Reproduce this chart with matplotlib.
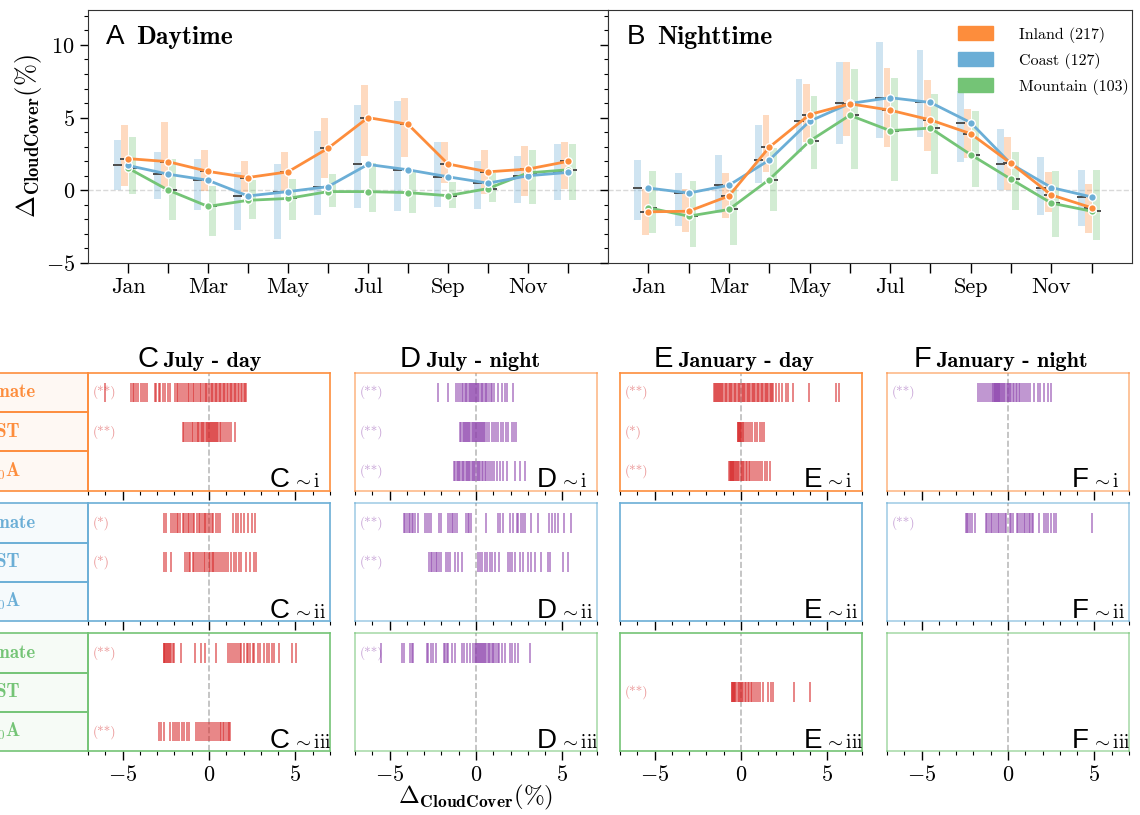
import matplotlib
matplotlib.use("Agg")
import matplotlib.pyplot as plt
from matplotlib.patches import Rectangle, Patch
from matplotlib.ticker import MultipleLocator, FixedLocator
import numpy as np

plt.rcParams["font.family"] = "cmr10"
plt.rcParams["mathtext.fontset"] = "cm"
plt.rcParams["axes.formatter.use_mathtext"] = True
plt.rcParams["axes.unicode_minus"] = True

# ---- top panels: monthly means and spread ----
months = ["Jan", "Feb", "Mar", "Apr", "May", "Jun",
          "Jul", "Aug", "Sep", "Oct", "Nov", "Dec"]
month_num = np.arange(1, 13)

regions = ["Inland", "Coast", "Mountain"]
region_counts = [217, 127, 103]
region_colors = ["#fd8d3c", "#6baed6", "#74c476"]

day_inland_mean = [2.18, 1.97, 1.30, 0.88, 1.27, 2.89, 5.00, 4.54, 1.81, 1.27, 1.46, 1.99]
day_inland_low = [0.30, 0.20, -0.05, -0.15, -0.05, 0.86, 2.38, 2.27, 0.53, -0.23, -0.37, 0.12]
day_inland_high = [4.47, 4.68, 2.80, 2.04, 2.66, 4.98, 7.25, 6.34, 3.29, 2.80, 3.08, 3.29]

day_coast_mean = [1.71, 1.11, 0.69, -0.39, -0.09, 0.25, 1.78, 1.41, 0.93, 0.49, 1.00, 1.23]
day_coast_low = [0.00, -0.58, -1.37, -2.73, -3.38, -1.69, -1.20, -1.44, -1.13, -1.27, -0.86, -0.67]
day_coast_high = [3.47, 2.66, 2.18, 1.27, 1.83, 4.05, 5.86, 6.13, 3.29, 2.04, 2.38, 3.15]

day_mountain_mean = [1.53, 0.02, -1.11, -0.69, -0.56, -0.09, -0.09, -0.16, -0.37, 0.12, 1.20, 1.41]
day_mountain_low = [-0.23, -2.04, -3.15, -1.97, -2.06, -1.13, -1.48, -1.55, -1.20, -0.79, -0.93, -0.67]
day_mountain_high = [3.66, 2.15, 0.30, 0.72, 0.79, 1.09, 1.88, 1.25, 0.58, 1.18, 2.80, 3.15]

night_inland_mean = [-1.48, -1.44, -0.39, 2.96, 5.21, 5.95, 5.51, 4.84, 3.89, 1.85, -0.32, -1.20]
night_inland_low = [-3.08, -2.87, -1.92, 1.27, 3.31, 3.73, 2.96, 2.73, 2.20, 0.00, -1.48, -2.96]
night_inland_high = [0.07, 0.07, 1.20, 5.16, 7.31, 8.84, 8.43, 7.59, 5.58, 3.70, 1.27, 0.46]

night_coast_mean = [0.16, -0.19, 0.35, 2.08, 4.75, 5.97, 6.37, 6.04, 4.65, 1.81, 0.19, -0.46]
night_coast_low = [-2.04, -2.48, -1.55, 0.53, 2.62, 3.15, 3.59, 3.66, 1.92, 0.02, -1.71, -2.48]
night_coast_high = [2.10, 1.20, 2.45, 4.47, 7.66, 8.84, 10.20, 9.68, 6.83, 4.19, 2.27, 1.41]

night_mountain_mean = [-1.20, -1.78, -1.32, 0.74, 3.38, 5.16, 4.10, 4.28, 2.45, 0.76, -0.88, -1.44]
night_mountain_low = [-2.96, -3.87, -3.77, -1.44, 1.44, 1.44, 0.65, 1.09, 0.25, -1.37, -3.22, -3.43]
night_mountain_high = [1.34, 0.65, 0.19, 2.94, 6.48, 8.36, 7.73, 6.62, 5.44, 2.66, 1.34, 1.41]

# ---- bottom panels: per-city deltas (rug) ----
jul_day_inland_climate = [-6.0, -4.54, -4.42, -4.31, -4.21, -4.08, -3.96, -3.81, -3.69, -3.58,
                          -3.15, -3.04, -2.92, -2.81, -2.67, -2.54, -2.38, -2.27, -1.96, -1.86,
                          -1.77, -1.66, -1.55, -1.46, -1.35, -1.24, -1.15, -1.04, -0.94, -0.85,
                          -0.73, -0.64, -0.52, -0.44, -0.35, -0.26, -0.18, -0.09, 0.02, 0.10,
                          0.17, 0.26, 0.33, 0.41, 0.49, 0.57, 0.63, 0.72, 0.80, 0.87, 0.95,
                          1.03, 1.12, 1.20, 1.27, 1.35, 1.42, 1.50, 1.57, 1.66, 1.74, 1.83,
                          1.91, 2.00, 2.07, 2.13]
jul_day_inland_lst = [-1.52, -1.42, -1.33, -1.23, -1.12, -1.00, -0.90, -0.80, -0.72, -0.62,
                      -0.55, -0.47, -0.40, -0.33, -0.27, -0.20, -0.13, -0.07, 0.00, 0.05,
                      0.10, 0.16, 0.22, 0.28, 0.34, 0.40, 0.47, 0.54, 0.62, 0.70, 0.80,
                      0.90, 1.02, 1.15, 1.30, 1.50]
jul_day_coast_climate = [-2.63, -2.50, -2.19, -2.08, -1.96, -1.87, -1.77, -1.65, -1.52, -1.42,
                         -1.31, -1.23, -1.15, -1.04, -0.94, -0.85, -0.71, -0.60, -0.50, -0.38,
                         -0.31, -0.23, -0.15, -0.08, 0.04, 0.15, 0.25, 0.38, 0.50, 0.62,
                         1.40, 1.56, 1.69, 1.85, 2.04, 2.25, 2.46, 2.67]
jul_day_coast_lst = [-2.58, -2.46, -2.19, -1.37, -1.27, -1.17, -1.08, -0.94, -0.85, -0.77,
                     -0.65, -0.50, -0.40, -0.31, -0.23, -0.12, 0.00, 0.08, 0.15, 0.23, 0.31,
                     0.40, 0.50, 0.62, 0.73, 0.85, 0.98, 1.12, 1.27, 1.42, 1.56, 1.71, 1.88,
                     2.13, 2.40, 2.58, 2.73]
jul_day_mountain_climate = [-2.63, -2.58, -2.52, -2.47, -2.42, -2.36, -2.30, -2.24, -2.17, -2.10,
                            -2.02, -1.62, -0.79, -0.46, -0.23, 0.40, 1.08, 1.19, 1.31, 1.46,
                            1.56, 1.65, 1.77, 1.88, 2.04, 2.17, 2.27, 2.38, 2.52, 2.62, 2.81,
                            2.96, 3.19, 3.33, 3.46, 3.62, 3.77, 4.06, 4.83, 5.02]
jul_day_mountain_z0a = [-2.87, -2.77, -2.58, -2.23, -2.10, -1.96, -1.85, -1.71, -1.56, -1.42,
                        -1.27, -1.13, -0.75, -0.65, -0.54, -0.42, -0.27, -0.15, -0.04, 0.08,
                        0.19, 0.31, 0.40, 0.50, 0.62, 0.71, 0.81, 0.88, 0.98, 1.08, 1.15, 1.21]

jul_night_inland_climate = [-2.17, -1.60, -1.15, -1.02, -0.92, -0.83, -0.73, -0.65, -0.58, -0.50,
                            -0.43, -0.36, -0.30, -0.23, -0.17, -0.10, -0.04, 0.02, 0.08, 0.14,
                            0.20, 0.27, 0.34, 0.42, 0.50, 0.58, 0.66, 0.75, 0.85, 0.95, 1.05,
                            1.30, 1.50, 1.70, 1.78, 2.15]
jul_night_inland_lst = [-0.92, -0.85, -0.78, -0.70, -0.63, -0.56, -0.50, -0.44, -0.38, -0.32,
                        -0.26, -0.20, -0.14, -0.08, -0.02, 0.04, 0.10, 0.16, 0.22, 0.28, 0.34,
                        0.40, 0.46, 0.52, 0.65, 0.77, 0.90, 1.04, 1.15, 1.29, 1.44, 1.58,
                        1.71, 1.87, 2.06, 2.17, 2.29]
jul_night_inland_z0a = [-1.27, -1.20, -1.12, -1.05, -0.97, -0.90, -0.82, -0.75, -0.68, -0.60,
                        -0.53, -0.46, -0.39, -0.32, -0.25, -0.18, -0.11, -0.04, 0.03, 0.10,
                        0.17, 0.25, 0.33, 0.41, 0.50, 0.60, 0.70, 0.80, 0.92, 1.05, 1.20,
                        1.38, 1.58, 1.77, 2.25, 2.55, 2.83]
jul_night_coast_climate = [-4.17, -4.10, -4.00, -3.90, -3.81, -3.71, -3.62, -3.52, -3.33, -2.94,
                           -2.83, -2.71, -2.60, -2.13, -2.04, -1.60, -1.50, -1.40, -1.31, -1.21,
                           -1.12, -0.58, -0.48, -0.38, -0.29, 0.58, 1.29, 1.38, 1.58, 1.96,
                           2.15, 2.35, 2.44, 2.58, 2.73, 2.83, 3.21, 3.60, 4.21, 4.37, 4.56,
                           4.75, 5.10, 5.48]
jul_night_coast_lst = [-2.71, -2.62, -2.52, -2.42, -2.33, -2.23, -2.13, -2.02, -1.75, -1.63,
                       -1.50, -1.21, -1.02, -0.83, 0.10, 0.23, 0.37, 0.52, 0.65, 0.81, 0.94,
                       1.10, 1.33, 1.87, 1.96, 2.06, 2.25, 2.54, 2.73, 3.02, 3.21, 3.40,
                       3.75, 4.17, 4.27, 5.04, 5.33]
jul_night_mountain_climate = [-5.48, -4.29, -4.19, -3.81, -3.71, -3.62, -2.85, -2.75, -2.60, -2.46,
                              -2.33, -1.88, -1.79, -1.69, -1.60, -1.40, -1.21, -0.83, -0.67,
                              -0.54, -0.35, -0.15, -0.06, 0.00, 0.06, 0.12, 0.18, 0.24, 0.30,
                              0.36, 0.42, 0.48, 0.54, 0.60, 0.67, 0.74, 0.82, 0.90, 0.98, 1.06,
                              1.15, 1.25, 1.35, 1.48, 1.67, 1.96, 2.06, 2.25, 2.44, 3.12]

jan_day_inland_climate = [-1.55, -1.50, -1.45, -1.39, -1.33, -1.28, -1.23, -1.16, -1.09, -1.02,
                          -0.95, -0.87, -0.79, -0.71, -0.63, -0.57, -0.50, -0.42, -0.34, -0.27,
                          -0.20, -0.12, -0.04, 0.03, 0.10, 0.17, 0.24, 0.32, 0.40, 0.47, 0.54,
                          0.62, 0.69, 0.76, 0.83, 0.91, 0.99, 1.07, 1.15, 1.22, 1.29, 1.36,
                          1.43, 1.51, 1.59, 1.66, 1.73, 1.80, 1.88, 2.02, 2.18, 2.38, 2.58,
                          2.74, 3.02, 3.91, 5.48, 5.65]
jan_day_inland_lst = [-0.20, -0.16, -0.12, -0.08, -0.05, 0.00, 0.06, 0.12, 0.20, 0.28, 0.40,
                      0.52, 0.65, 0.79, 0.94, 1.08, 1.23, 1.35]
jan_day_inland_z0a = [-0.69, -0.64, -0.60, -0.56, -0.52, -0.48, -0.44, -0.40, -0.37, -0.30,
                      -0.23, -0.16, -0.09, -0.02, 0.05, 0.12, 0.20, 0.28, 0.36, 0.45, 0.54,
                      0.64, 0.75, 0.86, 0.98, 1.10, 1.24, 1.38, 1.52, 1.65]
jan_day_mountain_lst = [-0.54, -0.50, -0.47, -0.43, -0.40, -0.33, -0.27, -0.20, -0.13, -0.06,
                        0.00, 0.07, 0.14, 0.22, 0.30, 0.38, 0.46, 0.55, 0.65, 0.75, 0.86,
                        0.98, 1.12, 1.30, 1.58, 1.75, 1.88, 3.04, 4.02]

jan_night_inland_climate = [-1.75, -1.63, -1.49, -1.39, -1.25, -1.14, -1.04, -0.90, -0.86, -0.82,
                            -0.78, -0.74, -0.70, -0.66, -0.62, -0.58, -0.54, -0.50, -0.46, -0.43,
                            -0.36, -0.29, -0.22, -0.15, -0.08, -0.02, 0.05, 0.12, 0.20, 0.28,
                            0.36, 0.44, 0.53, 0.62, 0.72, 0.82, 0.92, 1.03, 1.15, 1.30, 1.48,
                            1.75, 1.88, 2.10, 2.31, 2.49]
jan_night_coast_climate = [-2.45, -2.37, -2.29, -2.19, -2.09, -1.89, -1.29, -1.20, -1.10, -1.00,
                           -0.90, -0.80, -0.70, -0.60, -0.50, -0.40, -0.30, -0.20, -0.10, 0.10,
                           0.20, 0.30, 0.50, 0.60, 0.70, 0.80, 0.90, 1.00, 1.10, 1.20, 1.30,
                           1.39, 1.45, 1.79, 2.09, 2.19, 2.29, 2.49, 2.69, 2.79, 4.88]

col_letters = ["C", "D", "E", "F"]
col_titles = ["July - day", "July - night", "January - day", "January - night"]
col_colors = ["#d62728", "#8e44ad", "#d62728", "#8e44ad"]
row_labels = ["Climate", "LST", r"Z$_\mathbf{0}$A"]
roman = ["i", "ii", "iii"]

# rugs[column][region] -> three (values, significance) rows
rugs = [
    [[(jul_day_inland_climate, "(**)"), (jul_day_inland_lst, "(**)"), (None, None)],
     [(jul_day_coast_climate, "(*)"), (jul_day_coast_lst, "(*)"), (None, None)],
     [(jul_day_mountain_climate, "(**)"), (None, None), (jul_day_mountain_z0a, "(**)")]],
    [[(jul_night_inland_climate, "(**)"), (jul_night_inland_lst, "(**)"), (jul_night_inland_z0a, "(**)")],
     [(jul_night_coast_climate, "(**)"), (jul_night_coast_lst, "(**)"), (None, None)],
     [(jul_night_mountain_climate, "(**)"), (None, None), (None, None)]],
    [[(jan_day_inland_climate, "(**)"), (jan_day_inland_lst, "(*)"), (jan_day_inland_z0a, "(**)")],
     [(None, None), (None, None), (None, None)],
     [(None, None), (jan_day_mountain_lst, "(**)"), (None, None)]],
    [[(jan_night_inland_climate, "(**)"), (None, None), (None, None)],
     [(jan_night_coast_climate, "(**)"), (None, None), (None, None)],
     [(None, None), (None, None), (None, None)]],
]

W, H = 1140, 815
fig = plt.figure(figsize=(W / 100, H / 100), dpi=100)

# ---------------- top ----------------
axA = fig.add_axes([88 / W, 1 - 263 / H, 520 / W, 253 / H])
axB = fig.add_axes([608 / W, 1 - 263 / H, 524 / W, 253 / H], sharey=axA)

offsets = [-0.08, -0.26, 0.11]   # inland, coast, mountain
bar_w = 0.17

top_sets = [
    (axA, [day_inland_mean, day_coast_mean, day_mountain_mean],
     [day_inland_low, day_coast_low, day_mountain_low],
     [day_inland_high, day_coast_high, day_mountain_high], "A", "Daytime"),
    (axB, [night_inland_mean, night_coast_mean, night_mountain_mean],
     [night_inland_low, night_coast_low, night_mountain_low],
     [night_inland_high, night_coast_high, night_mountain_high], "B", "Nighttime"),
]

for ax, means, lows, highs, letter, name in top_sets:
    ax.axhline(0, color="#d9d9d9", ls="--", lw=1, zorder=0)
    for k in range(3):
        xs = month_num + offsets[k]
        lo = np.array(lows[k])
        hi = np.array(highs[k])
        ax.bar(xs, hi - lo, bottom=lo, width=bar_w, color=region_colors[k],
               alpha=0.32, lw=0, zorder=1)
        ax.hlines(means[k], xs - bar_w / 2 - 0.03, xs + bar_w / 2 + 0.03,
                  color="#4d4d4d", lw=1.4, zorder=2)
    for k in [2, 1, 0]:
        ax.plot(month_num, means[k], color=region_colors[k], lw=2, marker="o",
                ms=5.5, mec="white", mew=1, zorder=3)
    ax.set_xlim(0, 13)
    ax.set_xticks(month_num)
    ax.set_xticklabels([m if i % 2 == 0 else "" for i, m in enumerate(months)],
                       fontsize=16)
    ax.tick_params(axis="x", length=7, width=1, direction="out")
    ax.tick_params(axis="y", which="major", length=6, width=1, labelsize=16)
    ax.tick_params(axis="y", which="minor", length=3, width=0.8)
    for s in ax.spines.values():
        s.set_color("#333333")
    ax.text(0.035, 0.865, letter, transform=ax.transAxes, fontfamily="Liberation Sans",
            fontsize=20, va="baseline")
    ax.text(0.093, 0.865, name, transform=ax.transAxes, fontfamily="cmb10",
            fontsize=18.5, va="baseline")

axA.set_ylim(-5, 12.4)
axA.set_yticks([-5, 0, 5, 10])
axA.yaxis.set_minor_locator(MultipleLocator(1))
axA.set_ylabel(r"$\mathbf{\Delta}_{\mathbf{CloudCover}}(\%)$", fontsize=19)
axA.yaxis.set_label_coords(-0.085, 0.5)
axB.tick_params(axis="y", which="both", labelleft=False)

handles = [Patch(color=c) for c in region_colors]
labels = [f"{r} ({n})" for r, n in zip(regions, region_counts)]
axB.legend(handles, labels, loc="upper right", frameon=False, fontsize=11.5,
           handlelength=2.2, handleheight=0.95, borderaxespad=0.3,
           bbox_to_anchor=(1.015, 0.98), labelspacing=0.6, handletextpad=1.6)

# ---------------- bottom rugs ----------------
col_left = [88, 355, 620, 887]
row_top = [372.7, 503.3, 633.3]
pan_w, pan_h = 242, 118
row_y = [2.5, 1.5, 0.5]
title_pos = [(0.302, 0.322), (0.281, 0.302), (0.231, 0.252), (0.194, 0.211)]

for c in range(4):
    night = col_colors[c] != "#d62728"
    for r in range(3):
        ax = fig.add_axes([col_left[c] / W, 1 - (row_top[r] + pan_h) / H, pan_w / W, pan_h / H])
        ax.set_xlim(-7, 7)
        ax.set_ylim(0, 3)
        ax.axvline(0, color="#bbbbbb", ls="--", lw=1.2, zorder=0)
        for j in range(3):
            vals, sig = rugs[c][r][j]
            if vals is None:
                continue
            ax.vlines(vals, row_y[j] - 0.25, row_y[j] + 0.25, color=col_colors[c],
                      alpha=0.72, lw=1.1)
            ax.text(-6.75, row_y[j], sig, color=col_colors[c], alpha=0.5,
                    fontsize=9.5, ha="left", va="center")
        edge = region_colors[r]
        for s in ax.spines.values():
            s.set_color(edge)
            s.set_linewidth(1.2)
            s.set_alpha(0.6 if night else 1.0)
        ax.set_yticks([])
        ax.set_xticks([-5, 0, 5])
        ax.xaxis.set_minor_locator(FixedLocator(np.arange(-7, 8, 1)))
        ax.tick_params(axis="x", which="major", length=6.5, width=1, labelsize=16)
        ax.tick_params(axis="x", which="minor", length=3, width=0.8)
        if r < 2:
            ax.tick_params(axis="x", labelbottom=False)

        ax.text(0.835, 0.03, col_letters[c], transform=ax.transAxes,
                fontfamily="Liberation Sans", fontsize=20, ha="right", va="baseline")
        ax.text(0.845, 0.03, r"${\sim}$" + roman[r], transform=ax.transAxes,
                fontsize=14, ha="left", va="baseline")

        if r == 0:
            lx, tx = title_pos[c]
            ax.text(lx - 0.01, 1.045, col_letters[c], transform=ax.transAxes,
                    fontfamily="Liberation Sans", fontsize=21, ha="right", va="baseline")
            ax.text(tx - 0.01, 1.045, col_titles[c], transform=ax.transAxes,
                    fontfamily="cmb10", fontsize=16, ha="left", va="baseline")

        if c == 0:
            for j in range(3):
                y0 = (2 - j) / 3
                ax.add_patch(Rectangle((-0.8, y0), 0.8, 1 / 3, transform=ax.transAxes,
                                       facecolor=edge, alpha=0.06, edgecolor="none",
                                       clip_on=False))
                ax.add_patch(Rectangle((-0.8, y0), 0.8, 1 / 3, transform=ax.transAxes,
                                       fill=False, edgecolor=edge, lw=1.2, clip_on=False))
                ax.text(-0.352, y0 + 1 / 6, row_labels[j], transform=ax.transAxes,
                        color=edge, fontfamily="cmb10", fontsize=13.5,
                        ha="center", va="center")

        if c == 1 and r == 2:
            ax.set_xlabel(r"$\mathbf{\Delta}_{\mathbf{CloudCover}}(\%)$", fontsize=18)
            ax.xaxis.set_label_coords(0.5, -0.27)

fig.savefig("out.png", dpi=100)
